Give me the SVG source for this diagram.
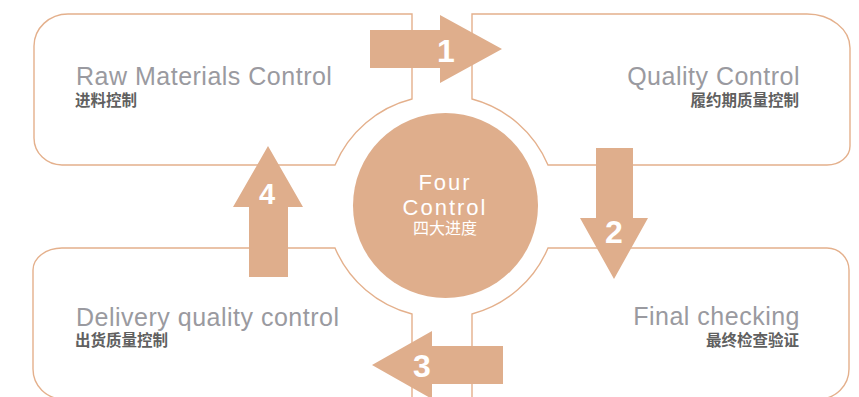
<svg xmlns="http://www.w3.org/2000/svg" width="859" height="397" viewBox="0 0 859 397">
<style>
.panel{fill:#ffffff;stroke:#e4b08c;stroke-width:1.4}
.arrow{fill:#dfae8c}
.title{font-family:"Liberation Sans",Arial,sans-serif;font-size:25px;letter-spacing:0.5px;fill:#9a9aa0}
.sub{font-family:"Liberation Sans","Noto Sans CJK SC",sans-serif;font-size:15.5px;font-weight:bold;fill:#606060}
.num{font-family:"Liberation Sans",Arial,sans-serif;font-size:32px;font-weight:bold;fill:#ffffff;text-anchor:middle}
.center{font-family:"Liberation Sans",Arial,sans-serif;font-size:22px;letter-spacing:2px;fill:#ffffff;text-anchor:middle}
.centersub{font-family:"Liberation Sans","Noto Sans CJK SC",sans-serif;font-size:16px;fill:#ffffff;text-anchor:middle}
</style>
<rect width="859" height="397" fill="#ffffff"/>
<g id="raw-materials">
<path class="panel" d="M68,14 H412 V99 A114 114 0 0 0 335,165 H62 A28 27 0 0 1 34,138 V46 A34 32 0 0 1 68,14 Z"/>
<text class="title" x="76" y="85">Raw Materials Control</text>
<text class="sub" x="75" y="106">进料控制</text>
</g>
<g id="quality-control">
<path class="panel" d="M472,14 H807 A43 34 0 0 1 850,48 V146 A23 19 0 0 1 827,165 H548 A114 114 0 0 0 472,99 Z"/>
<text class="title" x="800" y="85" text-anchor="end">Quality Control</text>
<text class="sub" x="799" y="106" text-anchor="end">履约期质量控制</text>
</g>
<g id="delivery">
<path class="panel" d="M62,248 H335 A114 114 0 0 0 412,314 V399 H63 A30 30 0 0 1 33,369 V270 A29 22 0 0 1 62,248 Z"/>
<text class="title" x="76" y="326">Delivery quality control</text>
<text class="sub" x="75" y="346">出货质量控制</text>
</g>
<g id="final-checking">
<path class="panel" d="M472,399 V314 A114 114 0 0 0 548,248 H827 A22 22 0 0 1 849,270 V369 A30 30 0 0 1 819,399 Z"/>
<text class="title" x="800" y="325" text-anchor="end">Final checking</text>
<text class="sub" x="799" y="346" text-anchor="end">最终检查验证</text>
</g>
<g id="four-control">
<circle cx="445.5" cy="205.5" r="92.5" fill="#dfae8c"/>
<text class="center" x="445" y="189.8">Four</text>
<text class="center" x="445" y="214.5">Control</text>
<text class="centersub" x="445" y="234">四大进度</text>
</g>
<g id="connectors">
<g id="arrow-1">
<polygon class="arrow" points="370,30 440,30 440,15 502,49 440,83 440,68 370,68"/>
<text class="num" x="446" y="62">1</text>
</g>
<g id="arrow-2">
<polygon class="arrow" points="596,148 633,148 633,218 648,218 614,279 580,218 596,218"/>
<text class="num" x="614" y="243">2</text>
</g>
<g id="arrow-3">
<polygon class="arrow" points="503,346 503,384 432,384 432,399 372,365 432,331 432,346"/>
<text class="num" x="422" y="377">3</text>
</g>
<g id="arrow-4">
<polygon class="arrow" points="249,277 249,207 233,207 268,146 303,207 288,207 288,277"/>
<text class="num" x="267" y="204" style="font-size:29px">4</text>
</g>
</g>
</svg>
